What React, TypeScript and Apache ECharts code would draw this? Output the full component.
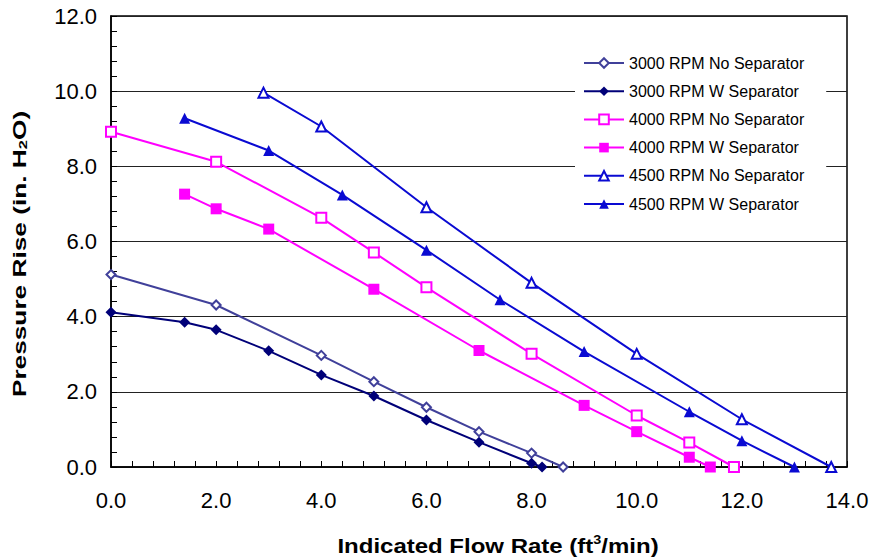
import React, { useEffect, useRef } from "react";
import * as echarts from "echarts";

const seriesNames = [
  "3000 RPM No Separator",
  "3000 RPM W Separator",
  "4000 RPM No Separator",
  "4000 RPM W Separator",
  "4500 RPM No Separator",
  "4500 RPM W Separator",
];

const rpm3000NoSep: [number, number][] = [
  [0, 5.12], [2, 4.31], [4, 2.97], [5, 2.27], [6, 1.59], [7, 0.94], [8, 0.37], [8.6, 0],
];
const rpm3000WSep: [number, number][] = [
  [0, 4.12], [1.4, 3.85], [2, 3.65], [3, 3.09], [4, 2.45], [5, 1.89], [6, 1.25], [7, 0.66], [8, 0.1], [8.2, 0],
];
const rpm4000NoSep: [number, number][] = [
  [0, 8.92], [2, 8.12], [4, 6.63], [5, 5.71], [6, 4.78], [8, 3.01], [10, 1.37], [11, 0.65], [11.85, 0],
];
const rpm4000WSep: [number, number][] = [
  [1.4, 7.26], [2, 6.87], [3, 6.33], [5, 4.73], [7, 3.1], [9, 1.64], [10, 0.94], [11, 0.26], [11.4, 0],
];
const rpm4500NoSep: [number, number][] = [
  [2.9, 9.96], [4, 9.06], [6, 6.91], [8, 4.9], [10, 3.01], [12, 1.27], [13.7, 0],
];
const rpm4500WSep: [number, number][] = [
  [1.4, 9.28], [3, 8.42], [4.4, 7.24], [6, 5.77], [7.4, 4.45], [9, 3.07], [11, 1.47], [12, 0.7], [13, 0],
];

const xTitle = ["Indicated Flow Rate (ft", "3", "/min)"];
const yTitle = ["Pressure Rise (in. H", "2", "O)"];

const FONT = "'Liberation Sans', Arial, Helvetica, sans-serif";

export default function App() {
  const ref = useRef<HTMLDivElement>(null);

  useEffect(() => {
    if (!ref.current) return;
    const chart = echarts.init(ref.current, null, { renderer: "svg" });

    const mk = (
      name: string,
      data: [number, number][],
      color: string,
      symbol: string,
      symbolSize: number,
      empty: boolean
    ) => ({
      name,
      type: "line",
      data,
      symbol,
      symbolSize,
      showAllSymbol: true,
      lineStyle: { color, width: 2 },
      itemStyle: empty
        ? { color, borderColor: color, borderWidth: 1.5 }
        : { color },
      z: 3,
    });

    chart.setOption({
      animation: false,
      backgroundColor: "#ffffff",
      textStyle: { fontFamily: FONT },
      grid: {
        left: 111,
        right: 26,
        top: 16,
        bottom: 91,
        show: true,
        borderColor: "#000",
        borderWidth: 1.5,
        backgroundColor: "transparent",
      },
      legend: {
        orient: "vertical",
        left: 575,
        top: 47,
        padding: [8, 22, 8, 8],
        backgroundColor: "#ffffff",
        itemWidth: 40,
        itemHeight: 12,
        itemGap: 12.2,
        textStyle: { fontFamily: FONT, fontSize: 16, color: "#000" },
        data: seriesNames,
        z: 4,
      },
      xAxis: {
        type: "value",
        min: 0,
        max: 14,
        interval: 2,
        axisLine: { show: true, lineStyle: { color: "#000", width: 1.5 } },
        axisTick: { show: true, inside: true, length: 6, lineStyle: { color: "#000" } },
        minorTick: { show: true, splitNumber: 5, length: 6, lineStyle: { color: "#000" } },
        splitLine: { show: false },
        axisLabel: {
          margin: 22,
          fontSize: 22,
          fontFamily: FONT,
          color: "#000",
          formatter: (v: number) => v.toFixed(1),
        },
      },
      yAxis: {
        type: "value",
        min: 0,
        max: 12,
        interval: 2,
        axisLine: { show: true, lineStyle: { color: "#000", width: 1.5 } },
        axisTick: { show: true, inside: true, length: 6, lineStyle: { color: "#000" } },
        minorTick: { show: true, splitNumber: 5, length: 6, lineStyle: { color: "#000" } },
        splitLine: { show: true, lineStyle: { color: "#222", width: 1 } },
        axisLabel: {
          margin: 14,
          fontSize: 22,
          fontFamily: FONT,
          color: "#000",
          formatter: (v: number) => v.toFixed(1),
        },
      },
      graphic: [
        {
          type: "text",
          x: 498,
          y: 545,
          scaleX: 1.2,
          style: {
            text: `{m|${xTitle[0]}}{s|${xTitle[1]}}{m|${xTitle[2]}}`,
            align: "center",
            verticalAlign: "middle",
            fill: "#000",
            rich: {
              m: { fontFamily: FONT, fontWeight: "bold", fontSize: 20, lineHeight: 22, verticalAlign: "bottom" },
              s: { fontFamily: FONT, fontWeight: "bold", fontSize: 12, lineHeight: 22, verticalAlign: "top" },
            },
          },
        },
        {
          type: "text",
          x: 19,
          y: 254,
          rotation: Math.PI / 2,
          scaleX: 1.5,
          style: {
            text: `{m|${yTitle[0]}}{s|${yTitle[1]}}{m|${yTitle[2]}}`,
            align: "center",
            verticalAlign: "middle",
            fill: "#000",
            rich: {
              m: { fontFamily: FONT, fontWeight: "bold", fontSize: 17.5, lineHeight: 20, verticalAlign: "bottom" },
              s: { fontFamily: FONT, fontWeight: "bold", fontSize: 11, lineHeight: 15, verticalAlign: "bottom" },
            },
          },
        },
      ],
      series: [
        mk(seriesNames[0], rpm3000NoSep, "#40409a", "emptyDiamond", 9, true),
        mk(seriesNames[1], rpm3000WSep, "#000078", "diamond", 11, false),
        mk(seriesNames[2], rpm4000NoSep, "#ff00ff", "emptyRect", 10, true),
        mk(seriesNames[3], rpm4000WSep, "#ff00ff", "rect", 11, false),
        mk(seriesNames[4], rpm4500NoSep, "#0a0ad2", "emptyTriangle", 10, true),
        mk(seriesNames[5], rpm4500WSep, "#0a0ad2", "triangle", 11, false),
      ],
    });

    return () => chart.dispose();
  }, []);

  return <div ref={ref} style={{ width: 873, height: 558, position: "absolute", left: 0, top: 0 }} />;
}
